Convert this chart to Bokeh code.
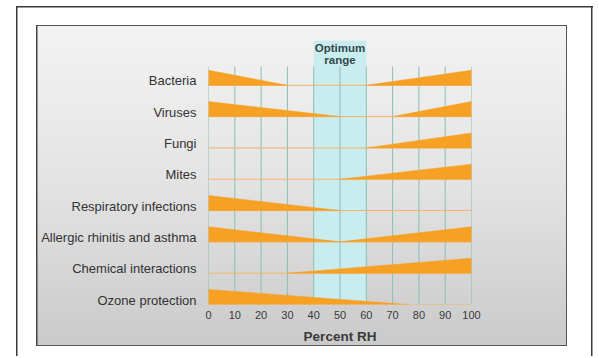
from bokeh.plotting import figure
from bokeh.models import Range1d, FixedTicker, InlineStyleSheet
from bokeh.core.properties import value
from bokeh.embed import file_html
from bokeh.resources import INLINE

# ---- data ----
categories = ["Bacteria", "Viruses", "Fungi", "Mites", "Respiratory infections",
              "Allergic rhinitis and asthma", "Chemical interactions", "Ozone protection"]
# left wedge: full effect at 0 % RH, fading to nothing at this RH
decrease_end = [30, 50, None, None, 50, 50, None, 76]
# right wedge: begins at this RH, full effect at 100 % RH
increase_start = [60, 70, 60, 50, None, 50, 30, None]
rh_ticks = [0, 10, 20, 30, 40, 50, 60, 70, 80, 90, 100]
optimum_range = [40, 60]

ORANGE = "#f6a024"
WEDGE_H = 0.48
n = len(categories)
rows = [n - 1 - i for i in range(n)]  # Bacteria on top

p = figure(width=596, height=356, output_backend="svg", toolbar_location=None,
           x_range=Range1d(0, 100), y_range=Range1d(0, 8.43),
           min_border_left=208, min_border_right=125, min_border_top=40, min_border_bottom=52)
p.border_fill_alpha = 0
p.background_fill_alpha = 0
p.outline_line_color = None
p.xgrid.visible = False
p.ygrid.visible = False

frame_css = """
:host {
  background:
    linear-gradient(#3a3a3a, #3a3a3a) no-repeat 16px 6px / 577px 1.5px,
    linear-gradient(#3a3a3a, #3a3a3a) no-repeat 16px 6px / 1.5px 100%,
    linear-gradient(#3a3a3a, #3a3a3a) no-repeat 591px 6px / 1.5px 100%,
    linear-gradient(#555555, #555555) no-repeat 36px 25px / 531px 1px,
    linear-gradient(#555555, #555555) no-repeat 36px 345px / 531px 1.2px,
    linear-gradient(#444444, #444444) no-repeat 36px 25px / 1.5px 321px,
    linear-gradient(#555555, #555555) no-repeat 566px 25px / 1px 321px,
    linear-gradient(180deg, #f3f3f3 0%, #e3e3e3 50%, #cacaca 100%) no-repeat 36px 25px / 531px 321px,
    #ffffff;
}
"""
p.stylesheets = [InlineStyleSheet(css=frame_css)]

# optimum band
p.quad(left=[optimum_range[0]], right=[optimum_range[1]], bottom=[0], top=[8.43],
       fill_color="#c9ecef", line_color=None)

# vertical grid lines
p.segment(x0=rh_ticks, x1=rh_ticks, y0=[0] * len(rh_ticks), y1=[7.6] * len(rh_ticks),
          line_color="#8dbdb5", line_width=1)

# baselines
p.segment(x0=[0] * n, x1=[100] * n, y0=rows, y1=rows, line_color="#f3b46b", line_width=1)

# wedges
xs, ys = [], []
for r, de, inc in zip(rows, decrease_end, increase_start):
    if de is not None:
        xs.append([0, de, 0])
        ys.append([r, r, r + WEDGE_H])
    if inc is not None:
        xs.append([inc, 100, 100])
        ys.append([r, r, r + WEDGE_H])
p.patches(xs, ys, fill_color=ORANGE, line_color=ORANGE, line_width=0.5)

# optimum label
p.text(x=[50, 50], y=[8.2, 7.8], text=["Optimum", "range"], text_align="center",
       text_baseline="middle", text_font=value("Liberation Sans"), text_font_style="bold",
       text_font_size="11.5px", text_color="#34474a")

# axes
xa = p.xaxis[0]
xa.ticker = FixedTicker(ticks=rh_ticks)
xa.axis_line_color = None
xa.major_tick_line_color = None
xa.minor_tick_line_color = None
xa.major_tick_out = 0
xa.minor_tick_out = 0
xa.major_label_standoff = 6
xa.major_label_text_font = "Liberation Sans"
xa.major_label_text_font_size = "11px"
xa.major_label_text_color = "#3a3a3a"
xa.axis_label = "Percent RH"
xa.axis_label_text_font = "Liberation Sans"
xa.axis_label_text_font_style = "bold"
xa.axis_label_text_font_size = "13.5px"
xa.axis_label_text_color = "#3a3a3a"
xa.axis_label_standoff = 7

label_pos = [r + 0.14 for r in rows]
ya = p.yaxis[0]
ya.ticker = FixedTicker(ticks=label_pos)
ya.major_label_overrides = {pos: name for pos, name in zip(label_pos, categories)}
ya.axis_line_color = None
ya.major_tick_line_color = None
ya.minor_tick_line_color = None
ya.major_tick_out = 0
ya.minor_tick_out = 0
ya.major_label_standoff = 12
ya.major_label_text_font = "Liberation Sans"
ya.major_label_text_font_size = "13px"
ya.major_label_text_color = "#333333"

open("out.html", "w").write(file_html(p, INLINE))
